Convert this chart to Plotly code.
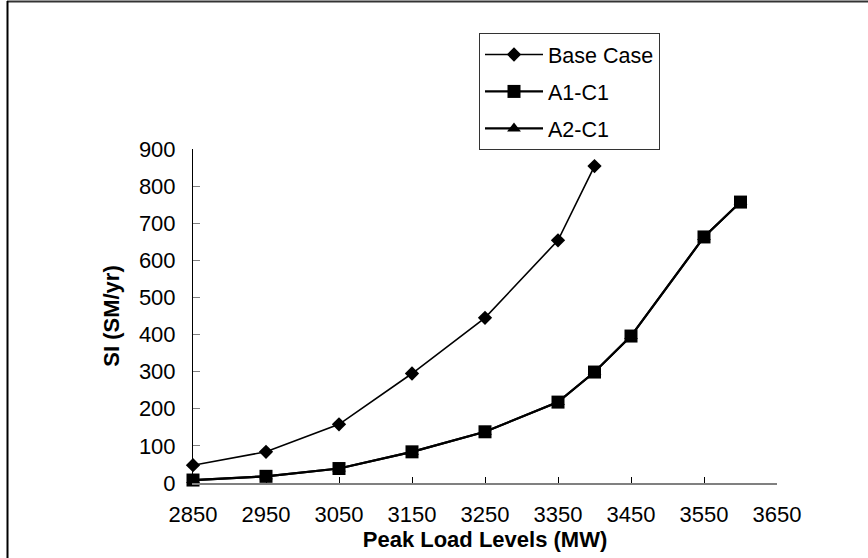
import plotly.graph_objects as go

# Peak load levels (MW) and cost index SI ($M/yr) for each case
load_base = [2850, 2950, 3050, 3150, 3250, 3350, 3400]
si_base = [48, 84, 158, 295, 445, 654, 854]

load_alt = [2850, 2950, 3050, 3150, 3250, 3350, 3400, 3450, 3550, 3600]
si_a1c1 = [8, 18, 39, 84, 138, 218, 299, 396, 663, 757]
si_a2c1 = [8, 18, 39, 84, 138, 218, 299, 396, 663, 757]

x_ticks = [2850, 2950, 3050, 3150, 3250, 3350, 3450, 3550, 3650]
y_ticks = [0, 100, 200, 300, 400, 500, 600, 700, 800, 900]

FONT = "Arial, 'Liberation Sans', sans-serif"

fig = go.Figure()

fig.add_trace(go.Scatter(
    x=load_base, y=si_base, name="Base Case", mode="lines+markers",
    line=dict(color="black", width=1.6),
    marker=dict(symbol="diamond", size=11, color="black"),
    cliponaxis=False, legendgroup="g1", legendrank=1,
))
fig.add_trace(go.Scatter(
    x=load_alt, y=si_a2c1, name="A2-C1", mode="lines+markers",
    line=dict(color="black", width=2.2),
    marker=dict(symbol="triangle-up", size=12, color="black"),
    cliponaxis=False, legendgroup="g3", legendrank=3,
))
fig.add_trace(go.Scatter(
    x=load_alt, y=si_a1c1, name="A1-C1", mode="lines+markers",
    line=dict(color="black", width=2.2),
    marker=dict(symbol="square", size=13, color="black"),
    cliponaxis=False, legendgroup="g2", legendrank=2,
))

W, H = 868, 558
L, R, T, B = 193, 91, 149, 75
pw, ph = W - L - R, H - T - B


def px_x(p):
    return (p - L) / pw


def px_y(p):
    return (H - B - p) / ph


fig.update_layout(
    width=W, height=H,
    margin=dict(l=L, r=R, t=T, b=B),
    paper_bgcolor="white", plot_bgcolor="white",
    font=dict(family=FONT, size=22, color="black"),
    showlegend=True,
    legend=dict(
        x=px_x(479), y=px_y(33), xanchor="left", yanchor="top",
        bgcolor="white", bordercolor="#333333", borderwidth=1,
        font=dict(family=FONT, size=21.5, color="black"),
        traceorder="grouped", tracegroupgap=6, itemwidth=58,
    ),
    xaxis=dict(
        range=[2850, 3650], tickvals=x_ticks, ticktext=[str(v) for v in x_ticks],
        showgrid=False, zeroline=False,
        showline=True, linecolor="#808080", linewidth=2,
        ticks="inside", ticklen=6, tickwidth=1, tickcolor="black",
        ticklabelstandoff=11,
        title=dict(text="<b>Peak Load Levels (MW)</b>", standoff=0,
                   font=dict(family=FONT, size=22)),
    ),
    yaxis=dict(
        range=[0, 900], tickvals=y_ticks,
        showgrid=False, zeroline=False,
        showline=True, linecolor="black", linewidth=1,
        ticks="inside", ticklen=7, tickwidth=1, tickcolor="#808080",
        ticklabelstandoff=12,
        title=dict(text="<b>SI (SM/yr)</b>", standoff=13,
                   font=dict(family=FONT, size=22)),
    ),
    shapes=[
        dict(type="line", xref="paper", yref="paper",
             x0=px_x(7), x1=px_x(W + 5), y0=px_y(1.5), y1=px_y(1.5),
             line=dict(color="#333333", width=2)),
        dict(type="line", xref="paper", yref="paper",
             x0=px_x(7.5), x1=px_x(7.5), y0=px_y(1), y1=px_y(H + 5),
             line=dict(color="black", width=2)),
    ],
)

fig.write_html("out.html")
